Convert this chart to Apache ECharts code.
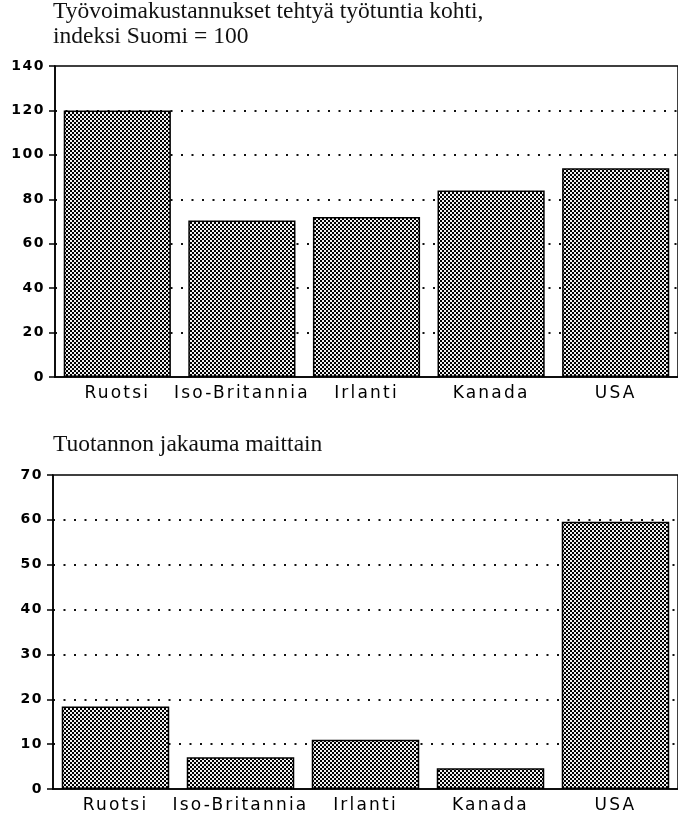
<!DOCTYPE html>
<html>
<head>
<meta charset="utf-8">
<script src="https://cdn.jsdelivr.net/npm/echarts@6/dist/echarts.min.js"></script>
<style>
  html, body { margin: 0; padding: 0; background: #fff; }
  #chart { width: 678px; height: 817px; }
</style>
</head>
<body>
<div id="chart"></div>
<script>
// Countries shown on both panels
const categories = ['Ruotsi', 'Iso-Britannia', 'Irlanti', 'Kanada', 'USA'];
// Labour cost per hour worked, index Finland = 100
const laborCostIndex = [120, 70.5, 72, 84, 94];
// Share of production by country (%)
const productionShare = [18.4, 7.1, 11, 4.6, 59.6];
// Value-axis ranges and steps
const costAxis = { min: 0, max: 140, interval: 20 };
const shareAxis = { min: 0, max: 70, interval: 10 };

const titleTop = 'Työvoimakustannukset tehtyä työtuntia kohti,\nindeksi Suomi = 100';
const titleBottom = 'Tuotannon jakauma maittain';

const serif = '"Liberation Serif", "DejaVu Serif", serif';
const sans = '"DejaVu Sans", "Liberation Sans", sans-serif';

// The axis lettering is a wide, loosely tracked grotesque: give sans-serif
// canvas text extra letter spacing, and none to anything else (titles).
const nativeFillText = CanvasRenderingContext2D.prototype.fillText;
CanvasRenderingContext2D.prototype.fillText = function (text, x, y, maxWidth) {
  const font = this.font;
  let spacing = '0px';
  if (font.indexOf('DejaVu Sans') !== -1) {
    spacing = /bold|700/.test(font) ? '1.5px' : '2.2px';
  }
  this.letterSpacing = spacing;
  this.font = font;
  if (maxWidth === undefined) nativeFillText.call(this, text, x, y);
  else nativeFillText.call(this, text, x, y, maxWidth);
  this.letterSpacing = '0px';
  this.font = font;
};

// Checkerboard fill used for the bars
function checkerPattern() {
  const c = document.createElement('canvas');
  c.width = 4; c.height = 4;
  const ctx = c.getContext('2d');
  ctx.fillStyle = '#f2f2f2';
  ctx.fillRect(0, 0, 4, 4);
  ctx.fillStyle = '#000';
  ctx.fillRect(0, 0, 2, 2);
  ctx.fillRect(2, 2, 2, 2);
  return c;
}
const pattern = { image: checkerPattern(), repeat: 'repeat' };

function valueAxis(gridIndex, range) {
  return {
    type: 'value',
    gridIndex,
    min: range.min,
    max: range.max,
    interval: range.interval,
    axisLine: { show: true, lineStyle: { color: '#000', width: 1.5 } },
    axisTick: { show: true, length: 6, lineStyle: { color: '#000', width: 1.5 } },
    axisLabel: { color: '#000', fontFamily: sans, fontWeight: 'bold', fontSize: 14, margin: 10 },
    splitLine: {
      show: true,
      showMinLine: false,
      showMaxLine: false,
      lineStyle: { color: '#111', width: 2, type: [2, 8.5] }
    }
  };
}

function categoryAxis(gridIndex) {
  return {
    type: 'category',
    gridIndex,
    data: categories,
    axisLine: { show: true, lineStyle: { color: '#000', width: 1.5 } },
    axisTick: { show: false },
    axisLabel: { color: '#000', fontFamily: sans, fontSize: 17, margin: 8, interval: 0 },
    splitLine: { show: false }
  };
}

function barSeries(index, data) {
  return {
    type: 'bar',
    xAxisIndex: index,
    yAxisIndex: index,
    data,
    barCategoryGap: '14%',
    itemStyle: { color: pattern, borderColor: '#000', borderWidth: 1.5 },
    silent: true
  };
}

const chart = echarts.init(document.getElementById('chart'), null, { renderer: 'canvas' });
chart.setOption({
  backgroundColor: '#fff',
  animation: false,
  title: [
    {
      text: titleTop,
      left: 53, top: -1, padding: 0,
      textStyle: { fontFamily: serif, fontSize: 23.5, fontWeight: 'normal', color: '#111', lineHeight: 25 }
    },
    {
      text: titleBottom,
      left: 53, top: 432, padding: 0,
      textStyle: { fontFamily: serif, fontSize: 23.5, fontWeight: 'normal', color: '#111', lineHeight: 25 }
    }
  ],
  grid: [
    { left: 55, top: 66, width: 630, height: 311, show: true, borderColor: '#000', borderWidth: 1.5, backgroundColor: '#fff' },
    { left: 53, top: 475, width: 632, height: 314, show: true, borderColor: '#000', borderWidth: 1.5, backgroundColor: '#fff' }
  ],
  xAxis: [categoryAxis(0), categoryAxis(1)],
  yAxis: [valueAxis(0, costAxis), valueAxis(1, shareAxis)],
  series: [barSeries(0, laborCostIndex), barSeries(1, productionShare)]
});
</script>
</body>
</html>
